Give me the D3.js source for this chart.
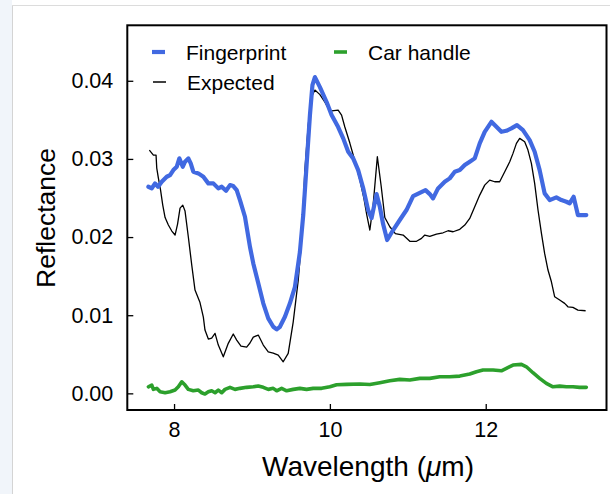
<!DOCTYPE html>
<html>
<head>
<meta charset="utf-8">
<script src="https://cdn.jsdelivr.net/npm/d3@7"></script>
<style>
  html, body { margin: 0; padding: 0; background: #ffffff; }
  svg { display: block; font-family: "Liberation Sans", Arial, sans-serif; }
</style>
</head>
<body>
<svg id="chart" width="610" height="494"></svg>
<script>
// Reflectance spectra (wavelength in µm, reflectance)
const fingerprintWl = [7.671,7.714,7.756,7.795,7.842,7.906,7.949,7.991,8.035,8.068,8.112,8.141,8.183,8.214,8.247,8.312,8.376,8.440,8.504,8.568,8.612,8.667,8.718,8.760,8.804,8.846,8.910,8.974,9.017,9.081,9.145,9.209,9.273,9.317,9.359,9.423,9.487,9.551,9.615,9.658,9.701,9.744,9.776,9.808,9.872,9.958,10.022,10.106,10.171,10.235,10.299,10.363,10.427,10.491,10.535,10.599,10.641,10.683,10.735,10.812,10.897,10.983,11.068,11.154,11.227,11.282,11.324,11.388,11.474,11.538,11.603,11.667,11.731,11.795,11.859,11.923,11.987,12.073,12.137,12.201,12.265,12.329,12.401,12.478,12.564,12.628,12.692,12.756,12.821,12.906,12.971,13.035,13.077,13.128,13.183,13.291];
const fingerprintR = [0.02644,0.02623,0.02687,0.02644,0.02708,0.02772,0.02793,0.02857,0.02900,0.03007,0.02900,0.02964,0.03007,0.02943,0.02836,0.02815,0.02772,0.02687,0.02687,0.02623,0.02644,0.02592,0.02665,0.02653,0.02601,0.02473,0.02260,0.01876,0.01663,0.01408,0.01152,0.00960,0.00852,0.00819,0.00852,0.00980,0.01152,0.01360,0.01808,0.02282,0.02922,0.03562,0.03945,0.04047,0.03919,0.03727,0.03561,0.03408,0.03263,0.03092,0.03007,0.02857,0.02627,0.02345,0.02243,0.02550,0.02388,0.02166,0.01962,0.02090,0.02218,0.02346,0.02525,0.02567,0.02601,0.02550,0.02495,0.02623,0.02708,0.02751,0.02836,0.02857,0.02921,0.02964,0.03007,0.03199,0.03347,0.03475,0.03411,0.03347,0.03360,0.03391,0.03433,0.03369,0.03241,0.03092,0.02857,0.02559,0.02473,0.02508,0.02473,0.02452,0.02431,0.02516,0.02282,0.02282];

const expectedWl = [7.683,7.735,7.769,7.778,7.799,7.827,7.855,7.885,7.927,7.971,8.013,8.045,8.077,8.112,8.141,8.183,8.227,8.269,8.333,8.376,8.397,8.440,8.483,8.526,8.568,8.632,8.696,8.760,8.804,8.859,8.932,8.974,9.017,9.081,9.145,9.209,9.273,9.337,9.401,9.465,9.529,9.594,9.637,9.679,9.722,9.765,9.808,9.872,9.936,10.000,10.051,10.106,10.150,10.192,10.256,10.321,10.385,10.436,10.474,10.513,10.555,10.609,10.658,10.705,10.769,10.840,10.940,11.026,11.112,11.176,11.218,11.282,11.368,11.453,11.517,11.581,11.667,11.731,11.795,11.859,11.923,11.987,12.051,12.115,12.179,12.244,12.308,12.350,12.394,12.436,12.500,12.542,12.586,12.628,12.671,12.715,12.756,12.799,12.843,12.885,12.949,13.013,13.055,13.119,13.183,13.282];
const expectedR = [0.03113,0.03049,0.03049,0.02883,0.02755,0.02601,0.02409,0.02250,0.02154,0.02077,0.02026,0.02166,0.02371,0.02409,0.02333,0.02004,0.01642,0.01322,0.01162,0.00976,0.00810,0.00695,0.00708,0.00768,0.00618,0.00468,0.00640,0.00759,0.00682,0.00605,0.00592,0.00644,0.00720,0.00746,0.00618,0.00532,0.00516,0.00490,0.00404,0.00512,0.00912,0.01450,0.01962,0.02858,0.03434,0.03795,0.03881,0.03823,0.03727,0.03612,0.03619,0.03625,0.03561,0.03408,0.03203,0.02973,0.02730,0.02499,0.02282,0.02090,0.02409,0.03028,0.02653,0.02250,0.02132,0.02045,0.02026,0.01946,0.01946,0.01983,0.02026,0.02009,0.02038,0.02055,0.02081,0.02068,0.02099,0.02154,0.02239,0.02388,0.02537,0.02665,0.02729,0.02708,0.02708,0.02836,0.02964,0.03071,0.03199,0.03263,0.03219,0.03113,0.02943,0.02687,0.02346,0.02047,0.01791,0.01578,0.01428,0.01236,0.01194,0.01152,0.01108,0.01100,0.01066,0.01057];

const carHandleWl = [7.671,7.714,7.735,7.778,7.821,7.885,7.949,8.013,8.055,8.099,8.141,8.183,8.247,8.312,8.355,8.397,8.440,8.483,8.526,8.568,8.612,8.654,8.718,8.782,8.846,8.932,9.017,9.081,9.145,9.209,9.273,9.317,9.381,9.445,9.529,9.615,9.701,9.786,9.894,10.000,10.086,10.214,10.385,10.513,10.641,10.769,10.897,11.026,11.154,11.282,11.410,11.538,11.667,11.795,11.881,11.965,12.094,12.201,12.265,12.350,12.458,12.522,12.606,12.692,12.778,12.863,12.949,13.035,13.119,13.205,13.291];
const carHandleR = [0.00084,0.00106,0.00051,0.00064,0.00020,0.00008,0.00020,0.00042,0.00084,0.00148,0.00106,0.00051,0.00033,0.00042,0.00008,-0.00009,0.00020,0.00033,0.00008,0.00042,0.00008,0.00051,0.00077,0.00051,0.00064,0.00077,0.00084,0.00093,0.00077,0.00051,0.00064,0.00033,0.00064,0.00033,0.00051,0.00064,0.00051,0.00064,0.00064,0.00084,0.00110,0.00115,0.00119,0.00113,0.00136,0.00161,0.00179,0.00170,0.00192,0.00192,0.00212,0.00212,0.00221,0.00247,0.00276,0.00298,0.00298,0.00289,0.00320,0.00362,0.00371,0.00340,0.00264,0.00192,0.00128,0.00084,0.00093,0.00084,0.00084,0.00077,0.00077];

const xTicks = [8, 10, 12];
const yTicks = [0.00, 0.01, 0.02, 0.03, 0.04];

const seriesNames = ["Fingerprint", "Expected", "Car handle"];
const seriesColors = ["#4169e1", "#000000", "#2ca02c"];

const svg = d3.select("#chart");

// page panel backdrop
svg.append("rect").attr("x", 0).attr("y", 0).attr("width", 12).attr("height", 494).attr("fill", "#f1f5fa");
svg.append("line").attr("x1", 12.5).attr("x2", 12.5).attr("y1", 5).attr("y2", 494).attr("stroke", "#d4d4d4").attr("stroke-width", 1);
svg.append("line").attr("x1", 12).attr("x2", 610).attr("y1", 5.5).attr("y2", 5.5).attr("stroke", "#dcdcdc").attr("stroke-width", 1);

const plot = { left: 127.3, right: 606.5, top: 25.3, bottom: 410 };

const x = d3.scaleLinear().domain([7.40, 13.55]).range([plot.left, plot.right]);
const y = d3.scaleLinear().domain([-0.00213, 0.0471]).range([plot.bottom, plot.top]);

const line = d3.line().x(d => x(d[0])).y(d => y(d[1]));

const zip = (a, b) => a.map((v, i) => [v, b[i]]);

const g = svg.append("g");

// spectra
g.append("path").datum(zip(carHandleWl, carHandleR))
  .attr("d", line).attr("fill", "none").attr("stroke", seriesColors[2])
  .attr("stroke-width", 3.6).attr("stroke-linejoin", "round").attr("stroke-linecap", "round");
g.append("path").datum(zip(expectedWl, expectedR))
  .attr("d", line).attr("fill", "none").attr("stroke", seriesColors[1])
  .attr("stroke-width", 1.3).attr("stroke-linejoin", "round");
g.append("path").datum(zip(fingerprintWl, fingerprintR))
  .attr("d", line).attr("fill", "none").attr("stroke", seriesColors[0])
  .attr("stroke-width", 4.2).attr("stroke-linejoin", "round").attr("stroke-linecap", "round");

// axes with inward ticks
const xAxis = d3.axisBottom(x).tickValues(xTicks).tickFormat(d3.format("d")).tickSizeInner(-6).tickSizeOuter(0).tickPadding(12);
const yAxis = d3.axisLeft(y).tickValues(yTicks).tickFormat(d3.format(".2f")).tickSizeInner(-6).tickSizeOuter(0).tickPadding(14);

const gx = svg.append("g").attr("transform", `translate(0,${plot.bottom})`).call(xAxis);
const gy = svg.append("g").attr("transform", `translate(${plot.left},0)`).call(yAxis);
[gx, gy].forEach(a => {
  a.select(".domain").remove();
  a.selectAll(".tick line").attr("stroke", "#000").attr("stroke-width", 1.3);
  a.selectAll(".tick text").attr("fill", "#000").style("font-size", "21.5px").style("font-family", "Liberation Sans, Arial, sans-serif");
});

// frame
svg.append("rect").attr("x", plot.left).attr("y", plot.top)
  .attr("width", plot.right - plot.left).attr("height", plot.bottom - plot.top)
  .attr("fill", "none").attr("stroke", "#000").attr("stroke-width", 2);

// axis titles
const xl = svg.append("text").attr("x", 368).attr("y", 476).attr("text-anchor", "middle")
  .style("font-size", "28px").attr("fill", "#000");
xl.append("tspan").text("Wavelength (");
xl.append("tspan").attr("font-style", "italic").text("μ");
xl.append("tspan").text("m)");

svg.append("text").attr("transform", "translate(55,218) rotate(-90)")
  .attr("text-anchor", "middle").style("font-size", "26.5px").attr("fill", "#000").text("Reflectance");

// legend
const legendItems = [
  { name: seriesNames[0], color: seriesColors[0], w: 4.2, x: 152, y: 52 },
  { name: seriesNames[2], color: seriesColors[2], w: 3.6, x: 334, y: 52 },
  { name: seriesNames[1], color: seriesColors[1], w: 1.5, x: 153, y: 82 }
];
const lg = svg.append("g");
legendItems.forEach(it => {
  lg.append("line").attr("x1", it.x).attr("x2", it.x + 13).attr("y1", it.y).attr("y2", it.y)
    .attr("stroke", it.color).attr("stroke-width", it.w);
  lg.append("text").attr("x", it.x + 34).attr("y", it.y + 7.5)
    .style("font-size", "21px").attr("fill", "#000").text(it.name);
});
</script>
</body>
</html>
